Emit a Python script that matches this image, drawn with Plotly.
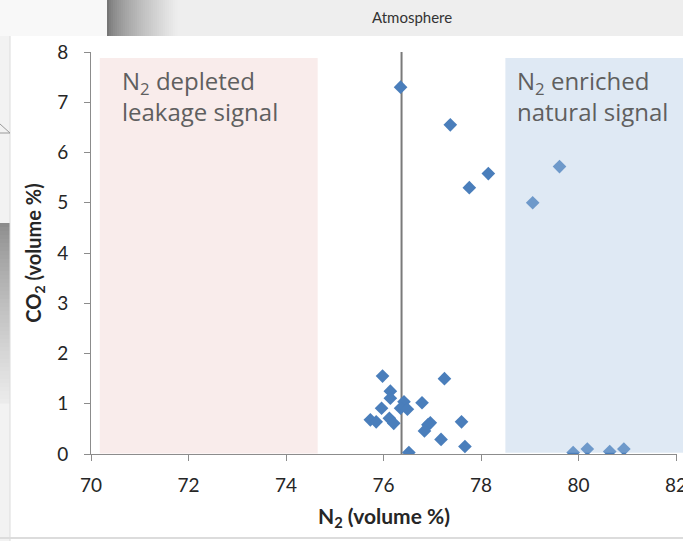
import plotly.graph_objects as go

# ---- data ----
n2 = [76.35, 77.37, 78.15, 77.76, 79.61, 79.06,
      75.98, 77.25, 76.14, 76.14, 76.42, 76.79, 75.96, 76.35, 76.49,
      75.73, 75.85, 76.12, 76.21, 76.96, 76.91, 76.84, 77.60, 77.18,
      77.67, 76.52, 79.89, 80.18, 80.64, 80.93]
co2 = [7.30, 6.55, 5.58, 5.30, 5.72, 5.00,
       1.55, 1.50, 1.25, 1.11, 1.04, 1.02, 0.91, 0.91, 0.89,
       0.68, 0.64, 0.71, 0.61, 0.62, 0.58, 0.46, 0.64, 0.29,
       0.15, 0.03, 0.03, 0.10, 0.05, 0.10]
atmosphere_n2 = 76.37
x_ticks = [70, 72, 74, 76, 78, 80, 82]
y_ticks = [0, 1, 2, 3, 4, 5, 6, 7, 8]
depleted_zone = [70.18, 74.65]
enriched_start = 78.5
zone_top = 7.88
x_range = [70, 82.02]
y_range = [0, 8]

W, H = 683, 541
L, R, T, B = 91, 6, 52, 87
PW, PH = W - L - R, H - T - B


def px(x):
    return (x - L) / PW


def py(y):
    return (H - B - y) / PH


def xd(v):
    return (v - x_range[0]) / (x_range[1] - x_range[0])


FONT = "Lato"

fig = go.Figure()

fig.add_trace(go.Scatter(
    x=[atmosphere_n2, atmosphere_n2], y=[0, 8], mode="lines",
    line=dict(color="#7a7a7a", width=2), hoverinfo="skip", showlegend=False))

fig.add_trace(go.Scatter(
    x=n2, y=co2, mode="markers",
    marker=dict(symbol="diamond", size=10.5, color="#4a7ebb"),
    showlegend=False))

shapes = []
# depleted zone (below)
shapes.append(dict(type="rect", xref="x", yref="y",
                   x0=depleted_zone[0], x1=depleted_zone[1], y0=0.01, y1=zone_top,
                   fillcolor="#f9eceb", line=dict(width=0), layer="below"))
# enriched zone (above markers, translucent)
shapes.append(dict(type="rect", xref="paper", yref="paper",
                   x0=xd(enriched_start), x1=1.05, y0=0.003, y1=zone_top / 8,
                   fillcolor="rgb(170,196,227)", opacity=0.38, line=dict(width=0), layer="above"))

# slide decorations outside the chart
shapes.append(dict(type="rect", xref="paper", yref="paper",
                   x0=px(0), x1=px(10), y0=py(541), y1=py(36),
                   fillcolor="#f2f2f2", line=dict(width=0), layer="below"))
shapes.append(dict(type="rect", xref="paper", yref="paper",
                   x0=px(0), x1=px(107), y0=py(36), y1=py(0),
                   fillcolor="#f8f8f8", line=dict(width=0), layer="below"))


def gray(v):
    v = int(round(v))
    return f"rgb({v},{v},{v})"


# left grey gradient strip (smooth)
n = 45
for i in range(n):
    y0 = 223 + i * 4
    shapes.append(dict(type="rect", xref="paper", yref="paper",
                       x0=px(0), x1=px(10), y0=py(y0 + 4.5), y1=py(y0),
                       fillcolor=gray(140 + (235 - 140) * (i / (n - 1)) ** 0.8),
                       line=dict(width=0), layer="below"))
shapes.append(dict(type="line", xref="paper", yref="paper",
                   x0=px(10), x1=px(10), y0=py(541), y1=py(36),
                   line=dict(color="#dcdcdc", width=1), layer="below"))
# triangle outline
shapes.append(dict(type="path", xref="paper", yref="paper",
                   path=f"M {px(0)},{py(124)} L {px(10)},{py(133)} L {px(0)},{py(133)}",
                   line=dict(color="#9a9a9a", width=1), layer="below"))
# header bar gradient (smooth)
shapes.append(dict(type="rect", xref="paper", yref="paper",
                   x0=px(107), x1=px(700), y0=py(36), y1=py(0),
                   fillcolor="#eeeeee", line=dict(width=0), layer="below"))
n = 35
for i in range(n):
    x0 = 107 + i * 2
    shapes.append(dict(type="rect", xref="paper", yref="paper",
                       x0=px(x0), x1=px(x0 + 2.5), y0=py(36), y1=py(0),
                       fillcolor=gray(118 + (236 - 118) * (i / (n - 1)) ** 0.7),
                       line=dict(width=0), layer="below"))
shapes.append(dict(type="line", xref="paper", yref="paper",
                   x0=px(0), x1=px(700), y0=py(538), y1=py(538),
                   line=dict(color="#dcdcdc", width=2), layer="below"))

zone_font = dict(family="Open Sans", size=24, color="#5f5f5f")
annotations = [
    dict(text="N<sub>2</sub> depleted<br>leakage signal", xref="paper", yref="paper",
         x=px(120), y=py(96), xanchor="left", yanchor="middle", align="left",
         showarrow=False, font=zone_font),
    dict(text="N<sub>2</sub> enriched<br>natural signal", xref="paper", yref="paper",
         x=px(515), y=py(96), xanchor="left", yanchor="middle", align="left",
         showarrow=False, font=zone_font),
    dict(text="Atmosphere", xref="paper", yref="paper",
         x=px(412), y=py(17), xanchor="center", yanchor="middle", showarrow=False,
         font=dict(family=FONT, size=15, color="#333333")),
]

fig.update_layout(
    width=W, height=H,
    margin=dict(l=L, r=R, t=T, b=B, pad=0, autoexpand=False),
    paper_bgcolor="white", plot_bgcolor="rgba(0,0,0,0)",
    shapes=shapes, annotations=annotations,
    showlegend=False,
    xaxis=dict(range=x_range, tickvals=x_ticks, ticktext=[str(v) for v in x_ticks],
               automargin=False,
               showgrid=False, zeroline=False, showline=True, linecolor="#8c8c8c", linewidth=1,
               ticks="outside", ticklen=6, tickcolor="#8c8c8c", ticklabelstandoff=8,
               ticklabeloverflow="allow",
               tickfont=dict(family=FONT, size=19, color="#262626"),
               title=dict(text="<b>N<sub>2</sub> (volume %)</b>", standoff=14,
                          font=dict(family=FONT, size=21, color="#262626"))),
    yaxis=dict(range=y_range, tickvals=y_ticks, ticktext=[str(v) for v in y_ticks],
               automargin=False,
               showgrid=False, zeroline=False, showline=True, linecolor="#8c8c8c", linewidth=1,
               ticks="outside", ticklen=6, tickcolor="#8c8c8c", ticklabelstandoff=12,
               tickfont=dict(family=FONT, size=19, color="#262626"),
               title=dict(text="<b>CO<sub>2</sub> (volume %)</b>", standoff=10,
                          font=dict(family=FONT, size=20, color="#262626"))),
)

fig.write_html("out.html")
